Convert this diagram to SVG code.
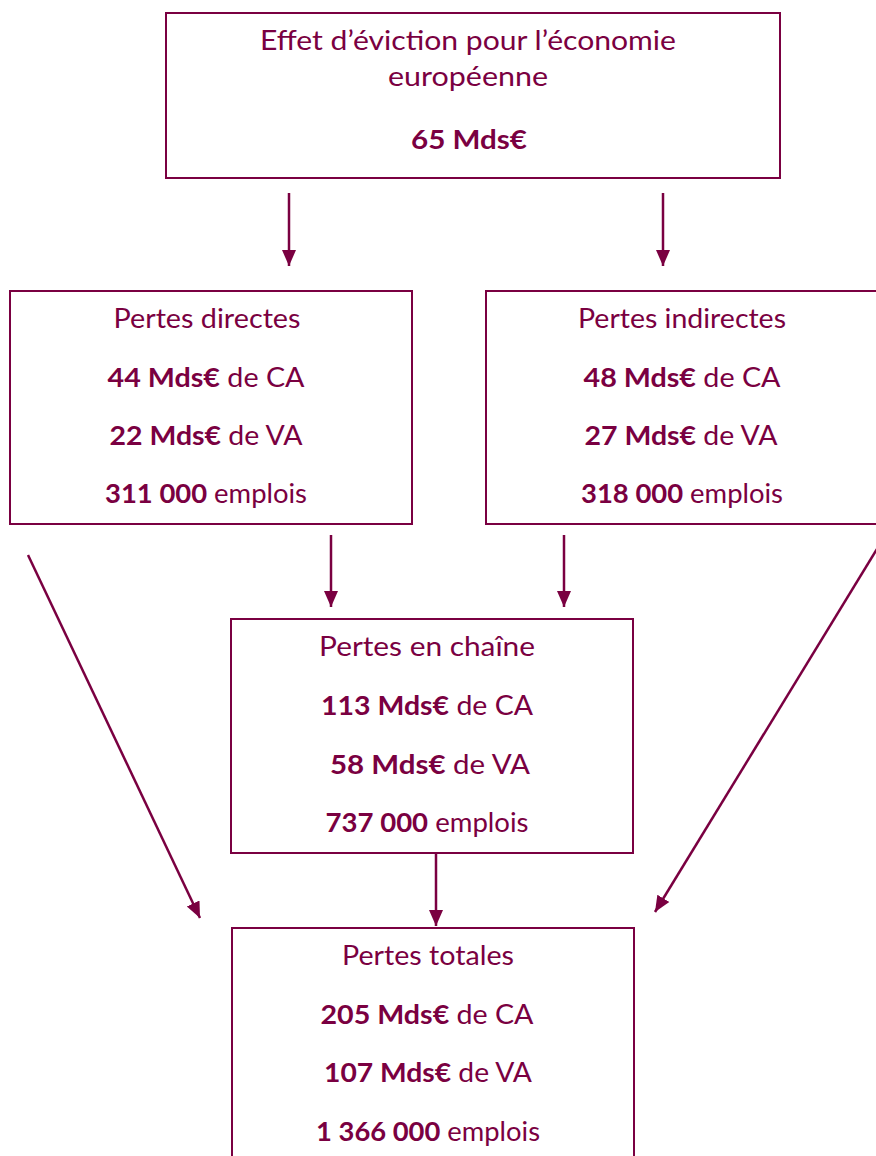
<svg xmlns="http://www.w3.org/2000/svg" width="876" height="1156" viewBox="0 0 876 1156">
<style>
.box{fill:#fff;stroke:#7a0041;stroke-width:2}
text{font-family:Lato,"Liberation Sans",sans-serif;font-size:26px;fill:#7a0041;text-anchor:middle}
.b{font-weight:bold}
.con{stroke:#7a0041;stroke-width:2.5;fill:none;marker-end:url(#ah)}
</style>
<defs>
<marker id="ah" markerUnits="userSpaceOnUse" markerWidth="16" markerHeight="16" refX="16" refY="8" orient="auto" viewBox="0 0 16 16">
<path d="M0,1 L16,8 L0,15 Z" fill="#7a0041"/>
</marker>
</defs>
<rect width="876" height="1156" fill="#fff"/>
<g id="connectors">
<line x1="289" y1="193" x2="289" y2="266" class="con"/>
<line x1="663" y1="193" x2="663" y2="266" class="con"/>
<line x1="331" y1="535" x2="331" y2="607" class="con"/>
<line x1="564" y1="535" x2="564" y2="607" class="con"/>
<line x1="28" y1="555" x2="200" y2="918" class="con"/>
<line x1="877" y1="549" x2="655" y2="912" class="con"/>
<line x1="436" y1="853" x2="436" y2="926" class="con"/>
</g>
<g id="n-eviction">
<rect class="box" x="166" y="13" width="614" height="165"/>
<text x="468" y="50" textLength="416" lengthAdjust="spacingAndGlyphs">Effet d’éviction pour l’économie</text>
<text x="468" y="86" textLength="160" lengthAdjust="spacingAndGlyphs">européenne</text>
<text x="469" y="149" class="b" textLength="116" lengthAdjust="spacingAndGlyphs">65 Mds€</text>
</g>
<g id="n-directes">
<rect class="box" x="10" y="291" width="402" height="233"/>
<text x="207" y="328" textLength="187" lengthAdjust="spacingAndGlyphs">Pertes directes</text>
<text x="206" y="387" textLength="197" lengthAdjust="spacingAndGlyphs"><tspan class="b">44 Mds€</tspan> de CA</text>
<text x="206" y="445" textLength="193" lengthAdjust="spacingAndGlyphs"><tspan class="b">22 Mds€</tspan> de VA</text>
<text x="206" y="503" textLength="202" lengthAdjust="spacingAndGlyphs"><tspan class="b">311 000</tspan> emplois</text>
</g>
<g id="n-indirectes">
<rect class="box" x="486" y="291" width="400" height="233"/>
<text x="682" y="328" textLength="208" lengthAdjust="spacingAndGlyphs">Pertes indirectes</text>
<text x="682" y="387" textLength="197" lengthAdjust="spacingAndGlyphs"><tspan class="b">48 Mds€</tspan> de CA</text>
<text x="681" y="445" textLength="193" lengthAdjust="spacingAndGlyphs"><tspan class="b">27 Mds€</tspan> de VA</text>
<text x="682" y="503" textLength="202" lengthAdjust="spacingAndGlyphs"><tspan class="b">318 000</tspan> emplois</text>
</g>
<g id="n-chaine">
<rect class="box" x="231" y="619" width="402" height="234"/>
<text x="427" y="656" textLength="216" lengthAdjust="spacingAndGlyphs">Pertes en chaîne</text>
<text x="427" y="715" textLength="212" lengthAdjust="spacingAndGlyphs"><tspan class="b">113 Mds€</tspan> de CA</text>
<text x="430" y="774" textLength="200" lengthAdjust="spacingAndGlyphs"><tspan class="b">58 Mds€</tspan> de VA</text>
<text x="427" y="832" textLength="203" lengthAdjust="spacingAndGlyphs"><tspan class="b">737 000</tspan> emplois</text>
</g>
<g id="n-totales">
<rect class="box" x="232" y="928" width="402" height="240"/>
<text x="428" y="965" textLength="172" lengthAdjust="spacingAndGlyphs">Pertes totales</text>
<text x="427" y="1024" textLength="213" lengthAdjust="spacingAndGlyphs"><tspan class="b">205 Mds€</tspan> de CA</text>
<text x="428" y="1082" textLength="208" lengthAdjust="spacingAndGlyphs"><tspan class="b">107 Mds€</tspan> de VA</text>
<text x="428" y="1141" textLength="224" lengthAdjust="spacingAndGlyphs"><tspan class="b">1 366 000</tspan> emplois</text>
</g>
</svg>
